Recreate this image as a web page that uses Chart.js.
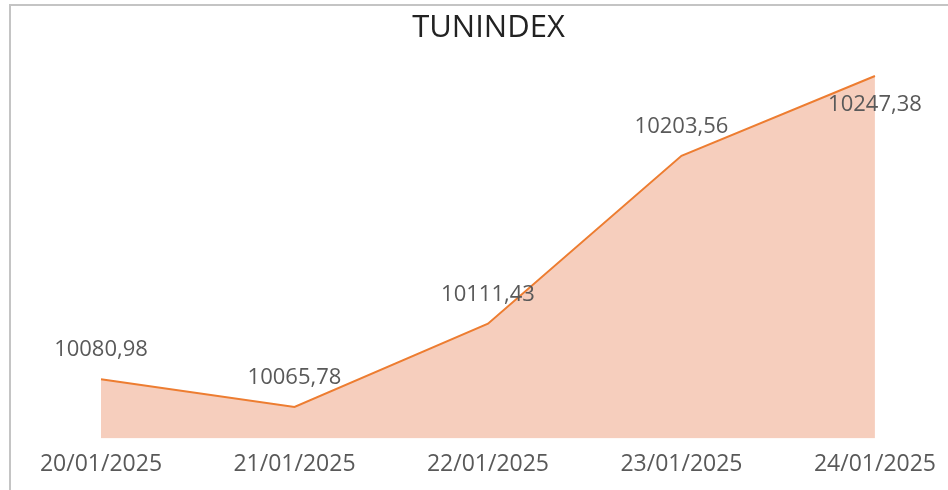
<!DOCTYPE html>
<html>
<head>
<meta charset="utf-8">
<script src="https://cdn.jsdelivr.net/npm/chart.js@4"></script>
<style>
  html, body { margin: 0; padding: 0; background: #fff; overflow: hidden; }
  #frame {
    position: absolute; left: 9px; top: 4px; width: 960px; height: 500px;
    border-top: 2px solid #c4c4c4; border-left: 2px solid #c4c4c4;
  }
  #wrap { position: absolute; left: 0; top: 0; width: 948px; height: 490px; }
</style>
</head>
<body>
<div id="frame"></div>
<div id="wrap"><canvas id="chart" width="948" height="490"></canvas></div>
<script>
// Data
const dates = ["20/01/2025", "21/01/2025", "22/01/2025", "23/01/2025", "24/01/2025"];
const tunindex = [10080.98, 10065.78, 10111.43, 10203.56, 10247.38];

const fmt = (v) => v.toFixed(2).replace(".", ",");

// Data labels: above the point, below if it would leave the plot area
const pointLabels = {
  id: "pointLabels",
  afterDatasetsDraw(chart) {
    const { ctx, chartArea } = chart;
    const meta = chart.getDatasetMeta(0);
    ctx.save();
    ctx.font = "22px 'Open Sans'";
    ctx.fillStyle = "#595959";
    ctx.textAlign = "center";
    ctx.textBaseline = "middle";
    meta.data.forEach((pt, i) => {
      let y = pt.y - 29;
      if (y - 12 < chartArea.top) y = pt.y + 29;
      ctx.fillText(fmt(tunindex[i]), pt.x, y);
    });
    ctx.restore();
  },
};

new Chart(document.getElementById("chart"), {
  type: "line",
  data: {
    labels: dates,
    datasets: [
      {
        label: "TUNINDEX",
        data: tunindex,
        borderColor: "#ED7D31",
        borderWidth: 2,
        backgroundColor: "#F6CEBD",
        fill: "start",
        pointRadius: 0,
        tension: 0,
      },
    ],
  },
  options: {
    responsive: false,
    animation: false,
    layout: { padding: { left: 101, right: 72, top: 0, bottom: 0 } },
    plugins: {
      legend: { display: false },
      tooltip: { enabled: false },
      title: {
        display: true,
        text: "TUNINDEX",
        color: "#222222",
        font: { family: "'Open Sans'", size: 31, weight: "normal" },
        padding: { top: 10, bottom: 24 },
      },
    },
    scales: {
      x: {
        offset: false,
        grid: { display: false, drawTicks: false },
        border: { display: false },
        ticks: {
          color: "#595959",
          font: { family: "'Open Sans'", size: 23 },
          padding: 12,
          maxRotation: 0,
        },
      },
      y: {
        display: false,
        min: 10048.5,
        max: 10250,
      },
    },
  },
  plugins: [pointLabels],
});
</script>
</body>
</html>
